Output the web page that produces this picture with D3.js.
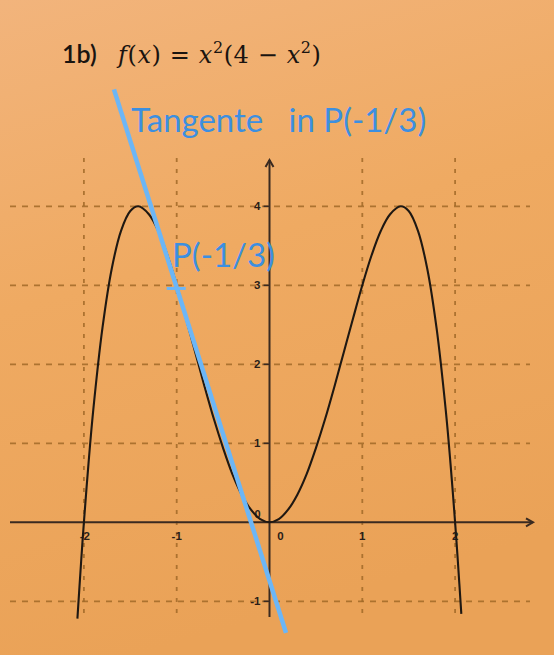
<!DOCTYPE html>
<html><head><meta charset="utf-8">
<script src="https://cdn.jsdelivr.net/npm/d3@7"></script>
<style>
html,body{margin:0;padding:0;background:#eeab66;}
svg{display:block;}
</style></head>
<body>
<svg id="chart" width="554" height="655"></svg>
<script>
// ---- data ----
const gridXValues = [-2, -1, 1, 2];
const gridYValues = [-1, 1, 2, 3, 4];
const xTickLabels = ["-2", "-1", "0", "1", "2"];
const xTickValues = [-2, -1, 0, 1, 2];
const yTickLabels = ["-1", "1", "2", "3", "4"];
const yTickValues = [-1, 1, 2, 3, 4];
// curve f(x) = x^2(4 - x^2)
const curveX = [-2.07, -2.03, -2.0, -1.95, -1.9, -1.8, -1.7, -1.6, -1.5, -1.414, -1.3, -1.2, -1.1, -1.0, -0.9, -0.8, -0.7, -0.6, -0.5, -0.4, -0.3, -0.2, -0.1, 0,
                0.1, 0.2, 0.3, 0.4, 0.5, 0.6, 0.7, 0.8, 0.9, 1.0, 1.1, 1.2, 1.3, 1.414, 1.5, 1.6, 1.7, 1.8, 1.9, 1.95, 2.0, 2.03, 2.067];
const curveY = [-1.22, -0.50, 0, 0.75, 1.41, 2.46, 3.21, 3.69, 3.94, 4.0, 3.90, 3.69, 3.38, 3.0, 2.58, 2.15, 1.72, 1.31, 0.94, 0.61, 0.35, 0.16, 0.04, 0,
                0.04, 0.16, 0.35, 0.61, 0.94, 1.31, 1.72, 2.15, 2.58, 3.0, 3.38, 3.69, 3.90, 4.0, 3.94, 3.69, 3.21, 2.46, 1.41, 0.75, 0, -0.50, -1.16];
// hand-drawn tangent through P(-1|3)
const tangentX = [-1.676, 0.178];
const tangentY = [5.48, -1.40];
const pointP = [-1, 2.96];

const svg = d3.select("#chart");
const W = 554, H = 655;

// background (photo of paper)
const defs = svg.append("defs");
const bg = defs.append("linearGradient").attr("id", "bg").attr("x1", 0).attr("y1", 0).attr("x2", 0.25).attr("y2", 1);
bg.append("stop").attr("offset", "0%").attr("stop-color", "#f2b47c");
bg.append("stop").attr("offset", "45%").attr("stop-color", "#efaa62");
bg.append("stop").attr("offset", "100%").attr("stop-color", "#eaa257");
svg.append("rect").attr("width", W).attr("height", H).attr("fill", "url(#bg)");

const x = d3.scaleLinear().domain([-2, 2]).range([83.9, 455.1]);
const y = d3.scaleLinear().domain([-1, 4]).range([601.3, 206.3]);

const gridColor = "#a26a28";
// horizontal dashed grid
svg.append("g").selectAll("line").data(gridYValues).join("line")
  .attr("x1", 10).attr("x2", 530)
  .attr("y1", d => y(d)).attr("y2", d => y(d))
  .attr("stroke", gridColor).attr("stroke-width", 1.8)
  .attr("stroke-dasharray", "6,6").attr("opacity", 0.85);
// vertical dashed grid
svg.append("g").selectAll("line").data(gridXValues).join("line")
  .attr("x1", d => x(d)).attr("x2", d => x(d))
  .attr("y1", 158).attr("y2", 614)
  .attr("stroke", gridColor).attr("stroke-width", 1.8)
  .attr("stroke-dasharray", "4,7").attr("opacity", 0.85);

const axisColor = "#3a2a20";
// x axis
svg.append("line").attr("x1", 10).attr("x2", 533).attr("y1", y(0)).attr("y2", y(0))
  .attr("stroke", axisColor).attr("stroke-width", 2);
svg.append("path").attr("d", `M${526},${y(0)-4} L533,${y(0)} L${526},${y(0)+4}`)
  .attr("fill", "none").attr("stroke", axisColor).attr("stroke-width", 2);
// y axis
svg.append("line").attr("x1", x(0)).attr("x2", x(0)).attr("y1", 617).attr("y2", 160)
  .attr("stroke", axisColor).attr("stroke-width", 2);
svg.append("path").attr("d", `M${x(0)-4},167 L${x(0)},160 L${x(0)+4},167`)
  .attr("fill", "none").attr("stroke", axisColor).attr("stroke-width", 2);
// y ticks
svg.append("g").selectAll("line").data(yTickValues).join("line")
  .attr("x1", x(0) - 6).attr("x2", x(0))
  .attr("y1", d => y(d)).attr("y2", d => y(d))
  .attr("stroke", axisColor).attr("stroke-width", 1.6);

const labelFont = "'Liberation Sans', Arial, sans-serif";
svg.append("g").selectAll("text").data(yTickValues).join("text")
  .attr("x", x(0) - 9).attr("y", d => y(d) + 4)
  .attr("text-anchor", "end").attr("font-family", labelFont).attr("font-weight", "bold")
  .attr("font-size", 11.5).attr("fill", "#2a1e18")
  .text((d, i) => yTickLabels[i]);
svg.append("g").selectAll("text").data(xTickValues).join("text")
  .attr("x", d => d === 0 ? x(d) + 11 : x(d) + (d === -2 ? 1 : 0)).attr("y", y(0) + 18)
  .attr("text-anchor", "middle").attr("font-family", labelFont).attr("font-weight", "bold")
  .attr("font-size", 11.5).attr("fill", "#2a1e18")
  .text((d, i) => xTickLabels[i]);
// small "0" near origin, above axis
svg.append("text").attr("x", x(0) - 12).attr("y", y(0) - 4)
  .attr("text-anchor", "middle").attr("font-family", labelFont).attr("font-weight", "bold")
  .attr("font-size", 11).attr("fill", "#2a1e18").text("0");

// curve
const pts = curveX.map((v, i) => [v, curveY[i]]);
svg.append("path").datum(pts)
  .attr("d", d3.line().x(d => x(d[0])).y(d => y(d[1])).curve(d3.curveCatmullRom.alpha(0.5)))
  .attr("fill", "none").attr("stroke", "#1f1812").attr("stroke-width", 2.1);

// tangent line
const tpts = tangentX.map((v, i) => [v, tangentY[i]]);
svg.append("path").datum(tpts)
  .attr("d", d3.line().x(d => x(d[0])).y(d => y(d[1])))
  .attr("fill", "none").attr("stroke", "#6cb6f6").attr("stroke-width", 4.5).attr("stroke-linecap", "butt");
// small mark at P
svg.append("line")
  .attr("x1", x(pointP[0]) - 10).attr("x2", x(pointP[0]) + 9)
  .attr("y1", y(pointP[1])).attr("y2", y(pointP[1]))
  .attr("stroke", "#6cb6f6").attr("stroke-width", 3);

// annotations
const blueText = "#3c8fe0";
const annFont = "Lato, 'Open Sans', sans-serif";
svg.append("text").attr("x", 131).attr("y", 132)
  .attr("font-family", annFont).attr("font-size", 33).attr("fill", blueText)
  .attr("xml:space", "preserve").style("white-space", "pre")
  .text("Tangente   in P(-1/3)");
svg.append("text").attr("x", 172).attr("y", 267)
  .attr("font-family", annFont).attr("font-size", 33).attr("fill", blueText)
  .text("P(-1/3)");

// title
svg.append("text").attr("x", 62).attr("y", 63).attr("fill", "#1a1410")
  .attr("font-family", "Lato, 'Open Sans', sans-serif").attr("font-weight", 600)
  .attr("font-size", 25).text("1b)");
const m = svg.append("text").attr("x", 118).attr("y", 63).attr("fill", "#1a1410")
  .attr("font-family", "'DejaVu Serif', 'Liberation Serif', serif").attr("font-size", 24);
m.append("tspan").attr("font-style", "italic").text("f");
m.append("tspan").text("(");
m.append("tspan").attr("font-style", "italic").text("x");
m.append("tspan").text(") = ");
m.append("tspan").attr("font-style", "italic").text("x");
m.append("tspan").attr("font-size", 16).attr("dy", -10).text("2");
m.append("tspan").attr("dy", 10).text("(4 − ");
m.append("tspan").attr("font-style", "italic").text("x");
m.append("tspan").attr("font-size", 16).attr("dy", -10).text("2");
m.append("tspan").attr("dy", 10).text(")");
// stretch the formula to the width seen in the photo
const targetW = 205;
const w0 = m.node().getBBox().width;
const nChars = m.text().length;
if (nChars > 1) m.attr("letter-spacing", ((targetW - w0) / (nChars - 1)).toFixed(2));
</script>
</body></html>
